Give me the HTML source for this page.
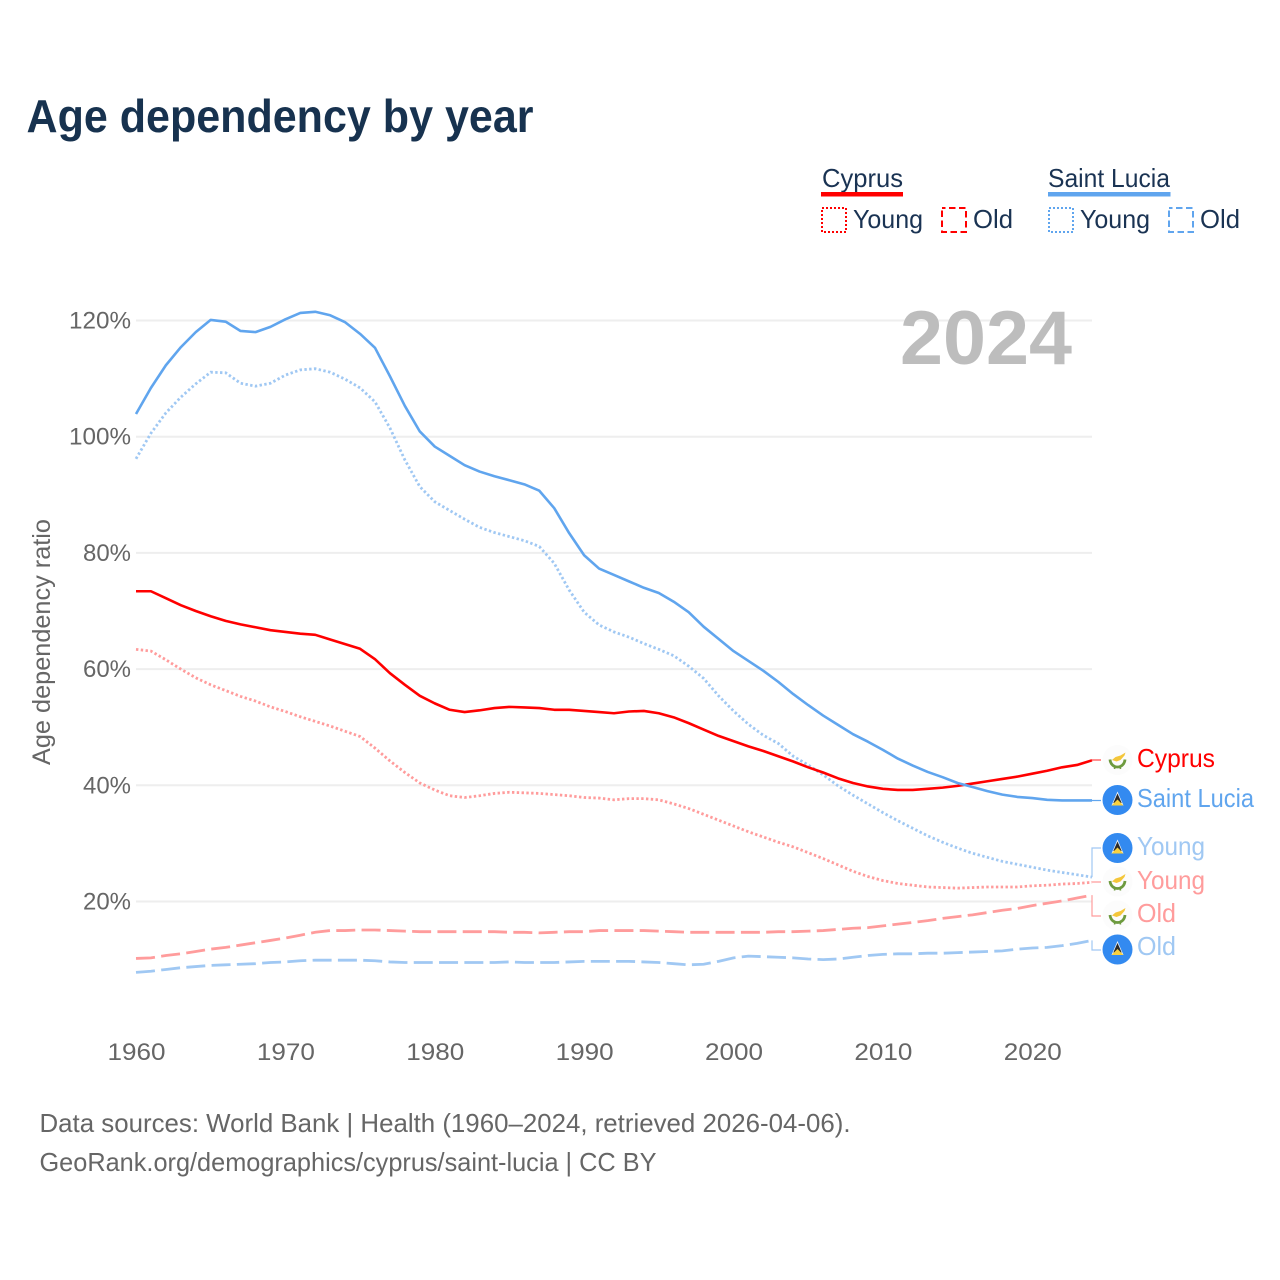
<!DOCTYPE html>
<html lang="en">
<head>
<meta charset="utf-8">
<title>Age dependency by year</title>
<style>
html,body{margin:0;padding:0;background:#fff;width:1280px;height:1280px;overflow:hidden}
svg{display:block}
text{font-family:"Liberation Sans",sans-serif}
</style>
</head>
<body>
<svg id="chart" xmlns="http://www.w3.org/2000/svg" width="1280" height="1280" viewBox="0 0 1280 1280">
  <defs>
    <symbol id="flag-cy" viewBox="-15 -15 30 30" overflow="visible">
      <circle r="15" fill="#fcfcfc"/>
      <path d="M-5.5 0 L-2 -3 L3 -4.500 L8 -7.500 L7 -4.500 L3 0 L-1 1.500 Z" fill="#f4c63a"/>
      <path d="M-7.5 -0.500 C-7 5 -3 7 0 7 C3 7 7 5 7.500 -0.500" fill="none" stroke="#6d9a3e" stroke-width="2.800"/>
      <path d="M-2.500 6 L-3 9 M2.500 6 L3 9" stroke="#6d9a3e" stroke-width="1.600"/>
    </symbol>
    <symbol id="flag-lc" viewBox="-15 -15 30 30" overflow="visible">
      <circle r="15" fill="#338af0"/>
      <path d="M0 -8.500 L6 5.500 L-6 5.500 Z" fill="#f4f6f8"/>
      <path d="M0 -6.500 L4.200 3 L-4.200 3 Z" fill="#2a2a2a"/>
      <path d="M0 -0.500 L6 5.500 L-6 5.500 Z" fill="#f9d13f"/>
    </symbol>
  </defs>

  <text x="26.500" y="132" font-size="46" font-weight="700" fill="#17324f" textLength="507" lengthAdjust="spacingAndGlyphs">Age dependency by year</text>

  <g>
    <text x="822" y="187" font-size="26" fill="#1a3353" textLength="81" lengthAdjust="spacingAndGlyphs">Cyprus</text>
    <rect x="821" y="192" width="82" height="4.500" fill="#ff0000"/>
    <rect x="822" y="208" width="24" height="24" fill="none" stroke="#ff0000" stroke-width="2" stroke-dasharray="2 2"/>
    <text x="853" y="228" font-size="26" fill="#1a3353" textLength="70" lengthAdjust="spacingAndGlyphs">Young</text>
    <rect x="942" y="208" width="24" height="24" fill="none" stroke="#ff0000" stroke-width="2" stroke-dasharray="6.500 3.500" stroke-dashoffset="3"/>
    <text x="973" y="228" font-size="26" fill="#1a3353" textLength="40" lengthAdjust="spacingAndGlyphs">Old</text>

    <text x="1048" y="187" font-size="26" fill="#1a3353" textLength="122" lengthAdjust="spacingAndGlyphs">Saint Lucia</text>
    <rect x="1048" y="192" width="122.500" height="4.500" fill="#60a5ee"/>
    <rect x="1049" y="208" width="24" height="24" fill="none" stroke="#60a5ee" stroke-width="2" stroke-dasharray="2 2"/>
    <text x="1080" y="228" font-size="26" fill="#1a3353" textLength="70" lengthAdjust="spacingAndGlyphs">Young</text>
    <rect x="1169" y="208" width="24" height="24" fill="none" stroke="#60a5ee" stroke-width="2" stroke-dasharray="6.500 3.500" stroke-dashoffset="3"/>
    <text x="1200" y="228" font-size="26" fill="#1a3353" textLength="40" lengthAdjust="spacingAndGlyphs">Old</text>
  </g>

  <g id="grid"></g>
  <g id="yticks"></g>
  <g id="xticks"></g>

  <text transform="translate(50 765) rotate(-90)" x="0" y="0" font-size="25" fill="#666666" textLength="246" lengthAdjust="spacingAndGlyphs">Age dependency ratio</text>

  <text x="900" y="364" font-size="76" font-weight="700" fill="#bdbdbd" textLength="172" lengthAdjust="spacingAndGlyphs">2024</text>

  <g id="lines"></g>
  <g id="connectors"></g>

  <use href="#flag-cy" x="1102.500" y="745" width="30" height="30"/>
  <use href="#flag-lc" x="1102.500" y="785" width="30" height="30"/>
  <use href="#flag-lc" x="1102.500" y="833" width="30" height="30"/>
  <use href="#flag-cy" x="1102.500" y="866.500" width="30" height="30"/>
  <use href="#flag-cy" x="1102.500" y="900.500" width="30" height="30"/>
  <use href="#flag-lc" x="1102.500" y="934.500" width="30" height="30"/>

  <text x="1137" y="767" font-size="26" fill="#ff0000" textLength="78" lengthAdjust="spacingAndGlyphs">Cyprus</text>
  <text x="1137" y="807" font-size="26" fill="#60a5ee" textLength="117" lengthAdjust="spacingAndGlyphs">Saint Lucia</text>
  <text x="1137" y="855" font-size="26" fill="#a0c8f3" textLength="68" lengthAdjust="spacingAndGlyphs">Young</text>
  <text x="1137" y="889" font-size="26" fill="#ff9c9c" textLength="68" lengthAdjust="spacingAndGlyphs">Young</text>
  <text x="1137" y="922" font-size="26" fill="#ff9c9c" textLength="39" lengthAdjust="spacingAndGlyphs">Old</text>
  <text x="1137" y="955" font-size="26" fill="#a0c8f3" textLength="39" lengthAdjust="spacingAndGlyphs">Old</text>

  <text x="39.500" y="1132" font-size="26" fill="#666666" textLength="811" lengthAdjust="spacingAndGlyphs">Data sources: World Bank | Health (1960–2024, retrieved 2026-04-06).</text>
  <text x="39.500" y="1171" font-size="26" fill="#666666" textLength="617" lengthAdjust="spacingAndGlyphs">GeoRank.org/demographics/cyprus/saint-lucia | CC BY</text>
</svg>

<script>
const startYear = 1960;
const yTickValues = [20, 40, 60, 80, 100, 120];
const xTickYears = [1960, 1970, 1980, 1990, 2000, 2010, 2020];

const cyprusTotal = [73.4,73.4,72.2,71.0,70.0,69.1,68.3,67.7,67.2,66.7,66.4,66.1,65.9,65.1,64.3,63.5,61.7,59.3,57.3,55.4,54.1,53.0,52.6,52.9,53.3,53.5,53.4,53.3,53.0,53.0,52.8,52.6,52.4,52.7,52.8,52.4,51.7,50.7,49.6,48.5,47.6,46.7,45.9,45.0,44.1,43.1,42.2,41.2,40.4,39.8,39.4,39.2,39.2,39.4,39.6,39.9,40.3,40.7,41.1,41.5,42.0,42.5,43.1,43.5,44.3];
const cyprusYoung = [63.4,63.1,61.6,60.0,58.5,57.3,56.3,55.3,54.5,53.5,52.7,51.8,51.0,50.2,49.3,48.4,46.4,44.2,42.2,40.4,39.2,38.2,37.9,38.2,38.6,38.8,38.7,38.6,38.4,38.2,37.9,37.8,37.5,37.7,37.7,37.5,36.8,36.0,35.0,34.0,33.0,32.0,31.1,30.2,29.4,28.4,27.4,26.3,25.2,24.3,23.6,23.1,22.8,22.5,22.4,22.3,22.4,22.5,22.5,22.5,22.7,22.8,23.0,23.1,23.3];
const cyprusOld = [10.2,10.3,10.7,11.0,11.4,11.8,12.1,12.5,12.9,13.3,13.7,14.2,14.7,15.0,15.0,15.1,15.1,15.0,14.9,14.8,14.8,14.8,14.8,14.8,14.8,14.7,14.7,14.6,14.7,14.8,14.8,15.0,15.0,15.0,15.0,14.9,14.8,14.7,14.7,14.7,14.7,14.7,14.7,14.8,14.8,14.9,15.0,15.2,15.4,15.5,15.8,16.1,16.4,16.7,17.1,17.4,17.7,18.1,18.5,18.8,19.3,19.7,20.1,20.6,21.1];
const luciaTotal = [103.9,108.4,112.3,115.4,118.0,120.1,119.8,118.2,118.0,118.9,120.2,121.3,121.5,120.9,119.7,117.7,115.3,110.4,105.3,100.9,98.3,96.7,95.1,94.0,93.2,92.5,91.8,90.7,87.7,83.4,79.6,77.3,76.2,75.1,74.0,73.1,71.6,69.8,67.3,65.2,63.1,61.4,59.7,57.8,55.7,53.8,52.0,50.4,48.8,47.5,46.1,44.6,43.4,42.3,41.4,40.4,39.7,39.0,38.4,38.0,37.8,37.5,37.4,37.4,37.4];
const luciaYoung = [96.2,100.6,104.1,106.8,109.1,111.1,111.0,109.2,108.7,109.2,110.6,111.5,111.7,111.1,109.9,108.4,106.0,101.5,96.0,91.4,88.8,87.3,85.8,84.4,83.5,82.8,82.1,81.1,78.2,73.6,69.8,67.6,66.4,65.5,64.4,63.4,62.3,60.5,58.4,55.4,52.8,50.5,48.6,47.2,45.0,43.5,41.8,39.9,38.3,36.8,35.3,33.9,32.6,31.3,30.2,29.2,28.3,27.6,26.9,26.4,25.9,25.4,25.0,24.6,24.2];
const luciaOld = [7.8,8.0,8.3,8.6,8.8,9.0,9.1,9.2,9.3,9.5,9.6,9.8,9.9,9.9,9.9,9.9,9.8,9.6,9.5,9.5,9.5,9.5,9.5,9.5,9.5,9.6,9.5,9.5,9.5,9.6,9.7,9.7,9.7,9.7,9.6,9.5,9.3,9.1,9.2,9.7,10.3,10.6,10.5,10.4,10.3,10.1,10.0,10.1,10.4,10.7,10.9,11.0,11.0,11.1,11.1,11.2,11.3,11.4,11.5,11.8,12.0,12.1,12.4,12.8,13.3];

const NS = 'http://www.w3.org/2000/svg';
const xScale = yr => 136 + (yr - 1960) * (956 / 64);
const yScale = v => 320.5 + (120 - v) * 5.81;

function make(tag, attrs, parent, text) {
  const el = document.createElementNS(NS, tag);
  for (const k in attrs) el.setAttribute(k, attrs[k]);
  if (text !== undefined) el.textContent = text;
  parent.appendChild(el);
  return el;
}
function pathFor(values) {
  return values.map((v, i) => (i ? 'L' : 'M') + xScale(startYear + i).toFixed(2) + ' ' + yScale(v).toFixed(2)).join(' ');
}

const gridG = document.getElementById('grid');
const yTickG = document.getElementById('yticks');
const xTickG = document.getElementById('xticks');
const linesG = document.getElementById('lines');
const connG = document.getElementById('connectors');

yTickValues.forEach(v => {
  const g = make('line', {x1: 136, x2: 1092, y1: yScale(v), y2: yScale(v), stroke: '#eeeeee', 'stroke-width': 2}, gridG);
  
  
  const w = v >= 100 ? 62 : 48;
  const t = make('text', {x: 131 - w, y: yScale(v) + 8, 'font-size': 24, fill: '#666666', textLength: w, lengthAdjust: 'spacingAndGlyphs'}, yTickG, v + '%');
  
  
});
xTickYears.forEach(yr => {
  const t = make('text', {x: xScale(yr) - 28.5, y: 1060, 'font-size': 24, fill: '#666666', textLength: 58, lengthAdjust: 'spacingAndGlyphs'}, xTickG, String(yr));
  
  
});

const DOT = '2.4 2.4';
const DASH = '19 6.3';

const l1 = make('path', {d: pathFor(luciaYoung), fill: 'none', stroke: '#a0c8f3', 'stroke-width': 2.8, 'stroke-dasharray': DOT}, linesG);


const l2 = make('path', {d: pathFor(luciaOld), fill: 'none', stroke: '#a0c8f3', 'stroke-width': 2.8, 'stroke-dasharray': DASH}, linesG);


const l3 = make('path', {d: pathFor(cyprusYoung), fill: 'none', stroke: '#ff9c9c', 'stroke-width': 2.8, 'stroke-dasharray': DOT}, linesG);


const l4 = make('path', {d: pathFor(cyprusOld), fill: 'none', stroke: '#ff9c9c', 'stroke-width': 2.8, 'stroke-dasharray': DASH}, linesG);


const l5 = make('path', {d: pathFor(cyprusTotal), fill: 'none', stroke: '#ff0000', 'stroke-width': 2.6, 'stroke-linejoin': 'round'}, linesG);


const l6 = make('path', {d: pathFor(luciaTotal), fill: 'none', stroke: '#60a5ee', 'stroke-width': 2.6, 'stroke-linejoin': 'round'}, linesG);



function connector(values, labelY, color) {
  const endY = yScale(values[values.length - 1]).toFixed(2);
  return make('path', {d: 'M1092 ' + endY + ' V' + labelY + ' H1101', fill: 'none', stroke: color, 'stroke-width': 1.2}, connG);
}
const c1 = connector(cyprusTotal, 760, '#ff4d4d');


const c2 = connector(luciaTotal, 800.5, '#60a5ee');


const c3 = connector(luciaYoung, 848, '#a0c8f3');


const c4 = connector(cyprusYoung, 882, '#ff9c9c');


const c5 = connector(cyprusOld, 916, '#ff9c9c');


const c6 = connector(luciaOld, 950, '#a0c8f3');


</script>
</body>
</html>
